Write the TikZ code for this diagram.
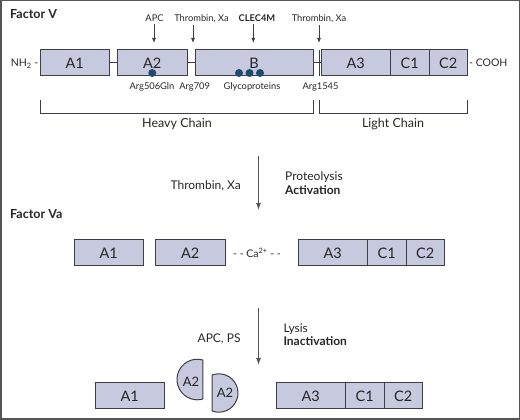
\documentclass[tikz,border=0pt]{standalone}
\usepackage{fontspec}
\setmainfont{Lato}
\usepackage{xcolor}
\usepackage{tikz}
\usetikzlibrary{
  positioning,
  arrows.meta,
  calc
}
\definecolor{domfill}{HTML}{C7C9DF}
\definecolor{edge}{HTML}{3E3E48}
\definecolor{ink}{HTML}{262626}
\definecolor{sitecol}{HTML}{1F4A6C}
\definecolor{arrowgray}{HTML}{555555}

\begin{document}
\begin{tikzpicture}[
  x=1pt, y=1pt,
  node distance=8pt,
  every node/.style={text=ink},
  dom/.style={draw=edge, fill=domfill, line width=1pt, inner sep=0pt, outer sep=0pt,
              minimum width=69.5pt, minimum height=26pt, anchor=west,
              font=\fontsize{14.5}{16}\selectfont},
  cdom/.style={dom, minimum width=38.5pt},
  bdom/.style={dom, minimum width=118pt},
  half/.style={draw=edge, fill=domfill, line width=1pt},
  link/.style={edge, line width=1pt},
  site/.style={circle, fill=sitecol, inner sep=0pt, minimum size=8pt},
  lbl/.style={font=\fontsize{9.3}{11}\selectfont, inner sep=1pt},
  mid/.style={font=\fontsize{10.5}{12}\selectfont, inner sep=0pt},
  big/.style={font=\fontsize{12}{14}\selectfont, inner sep=0pt},
  chain/.style={font=\fontsize{12.5}{14}\selectfont, inner sep=0pt, anchor=base},
  head/.style={font=\fontsize{12.5}{14}\selectfont\bfseries, inner sep=0pt, anchor=base west},
  cut/.style={-{Latex[length=5pt,width=4pt]}, line width=0.8pt, edge, shorten <=1pt},
  proc/.style={-{Latex[length=7pt,width=5pt]}, line width=1.2pt, arrowgray}
]
  \useasboundingbox (0,0) rectangle (520,420);
  \draw[arrowgray, line width=1.5pt] (0.75,0.75) rectangle (519.25,419.25);

  % factor V
  \node[head] (fv) at (10,401) {Factor V};
  \node[dom] (A1) at (40,357) {A1};
  \node[dom, right=of A1] (A2) {A2};
  \node[bdom, right=of A2] (B) {B};
  \node[dom, right=of B] (A3) {A3};
  \node[cdom, right=0pt of A3] (C1) {C1};
  \node[cdom, right=0pt of C1] (C2) {C2};
  \node[mid, anchor=base east] (nterm) at (38.5,353.3) {NH\textsubscript{2} -};
  \node[mid, anchor=base west] (cterm) at (469,353.3) {- COOH};

  \coordinate (k1545) at ($(B.east)!0.75!(A3.west)$);
  \draw[link] (A1) -- (A2);
  \draw[link] (A2) -- (B);
  \draw[link] (B) -- (A3);
  \draw[link] (k1545 |- A3.north) -- (k1545 |- A3.south);

  \node[site] (s506) at ([yshift=3pt]A2.south) {};
  \foreach \dx/\nm in {-15/g1, -4.5/g2, 6/g3}
    \node[site] (\nm) at ([shift={(\dx,3)}]B.south) {};

  % cleavage sites
  \node[lbl, anchor=base] (apc) at (154.5,398.3) {APC};
  \node[lbl, anchor=base] (thr709) at (201.5,398.3) {Thrombin, Xa};
  \node[lbl, anchor=base, font=\fontsize{9.3}{11}\selectfont\bfseries] (clec) at (257,398.3) {CLEC4M};
  \node[lbl, anchor=base] (thr1545) at (319,398.3) {Thrombin, Xa};
  \coordinate (t506) at (154,377);
  \coordinate (t709) at (193,377);
  \coordinate (tclec) at (253.3,377);
  \coordinate (t1545) at ($(k1545)+(0,20)$);
  \draw[cut] (apc.south -| t506) -- (t506);
  \draw[cut] (thr709.south -| t709) -- (t709);
  \draw[cut] (clec.south -| tclec) -- (tclec);
  \draw[cut] (thr1545.south -| t1545) -- (t1545);

  \node[lbl, anchor=base] (r506) at (152,330.7) {Arg506Gln};
  \node[lbl, anchor=base] (r709) at (194.7,330.7) {Arg709};
  \node[lbl, anchor=base] (glyc) at (252,330.7) {Glycoproteins};
  \node[lbl, anchor=base] (r1545) at (320.5,330.7) {Arg1545};

  % chains
  \draw[link] ($(A1.south west)+(0,-24)$) -- ++(0,-14) -| ($(B.south east)+(0,-24)$);
  \draw[link] ($(k1545 |- A3.south)+(0,-24)$) -- ++(0,-14) -| ($(C2.south east)+(0,-24)$);
  \node[chain] (heavy) at (177,292.3) {Heavy Chain};
  \node[chain] (light) at (393,292.3) {Light Chain};

  % activation
  \coordinate (act1) at (258.5,264);
  \coordinate (act2) at (258.5,210);
  \draw[proc] (act1) -- (act2);
  \node[big, anchor=base east] (actby) at (241,230) {Thrombin, Xa};
  \node[big, anchor=base west] (proteo) at (285,239.3) {Proteolysis};
  \node[big, anchor=base west, font=\fontsize{12}{14}\selectfont\bfseries] (activ) at (285,225.7) {Activation};

  % factor Va
  \node[head] (fva) at (10,201) {Factor Va};
  \node[dom] (vA1) at (74,167) {A1};
  \node[dom, right=12pt of vA1] (vA2) {A2};
  \node[dom] (vA3) at (298,167) {A3};
  \node[cdom, right=0pt of vA3] (vC1) {C1};
  \node[cdom, right=0pt of vC1] (vC2) {C2};
  \node[mid] (ca) at (257,167) {- - Ca\textsuperscript{2+} - -};

  % inactivation
  \coordinate (inact1) at (258.5,112);
  \coordinate (inact2) at (258.5,55);
  \draw[proc] (inact1) -- (inact2);
  \node[big, anchor=base east] (inby) at (240.7,77.7) {APC, PS};
  \node[big, anchor=base west] (lysis) at (283.3,87.7) {Lysis};
  \node[big, anchor=base west, font=\fontsize{12}{14}\selectfont\bfseries] (inactiv) at (283.3,74.3) {Inactivation};

  \node[dom] (iA1) at (95,24) {A1};
  \draw[half] (197.3,40.5) ++(73.7:20.3) arc[start angle=73.7, end angle=286.3, radius=20.3] -- cycle;
  \draw[half] (218.8,27) ++(-110.7:19.2) arc[start angle=-110.7, end angle=110.7, radius=19.2] -- cycle;
  \node[font=\fontsize{13}{15}\selectfont] (hA2a) at (191,38) {A2};
  \node[font=\fontsize{13}{15}\selectfont] (hA2b) at (225,27) {A2};
  \node[dom] (iA3) at (276,24) {A3};
  \node[cdom, right=0pt of iA3] (iC1) {C1};
  \node[cdom, right=0pt of iC1] (iC2) {C2};
\end{tikzpicture}
\end{document}
